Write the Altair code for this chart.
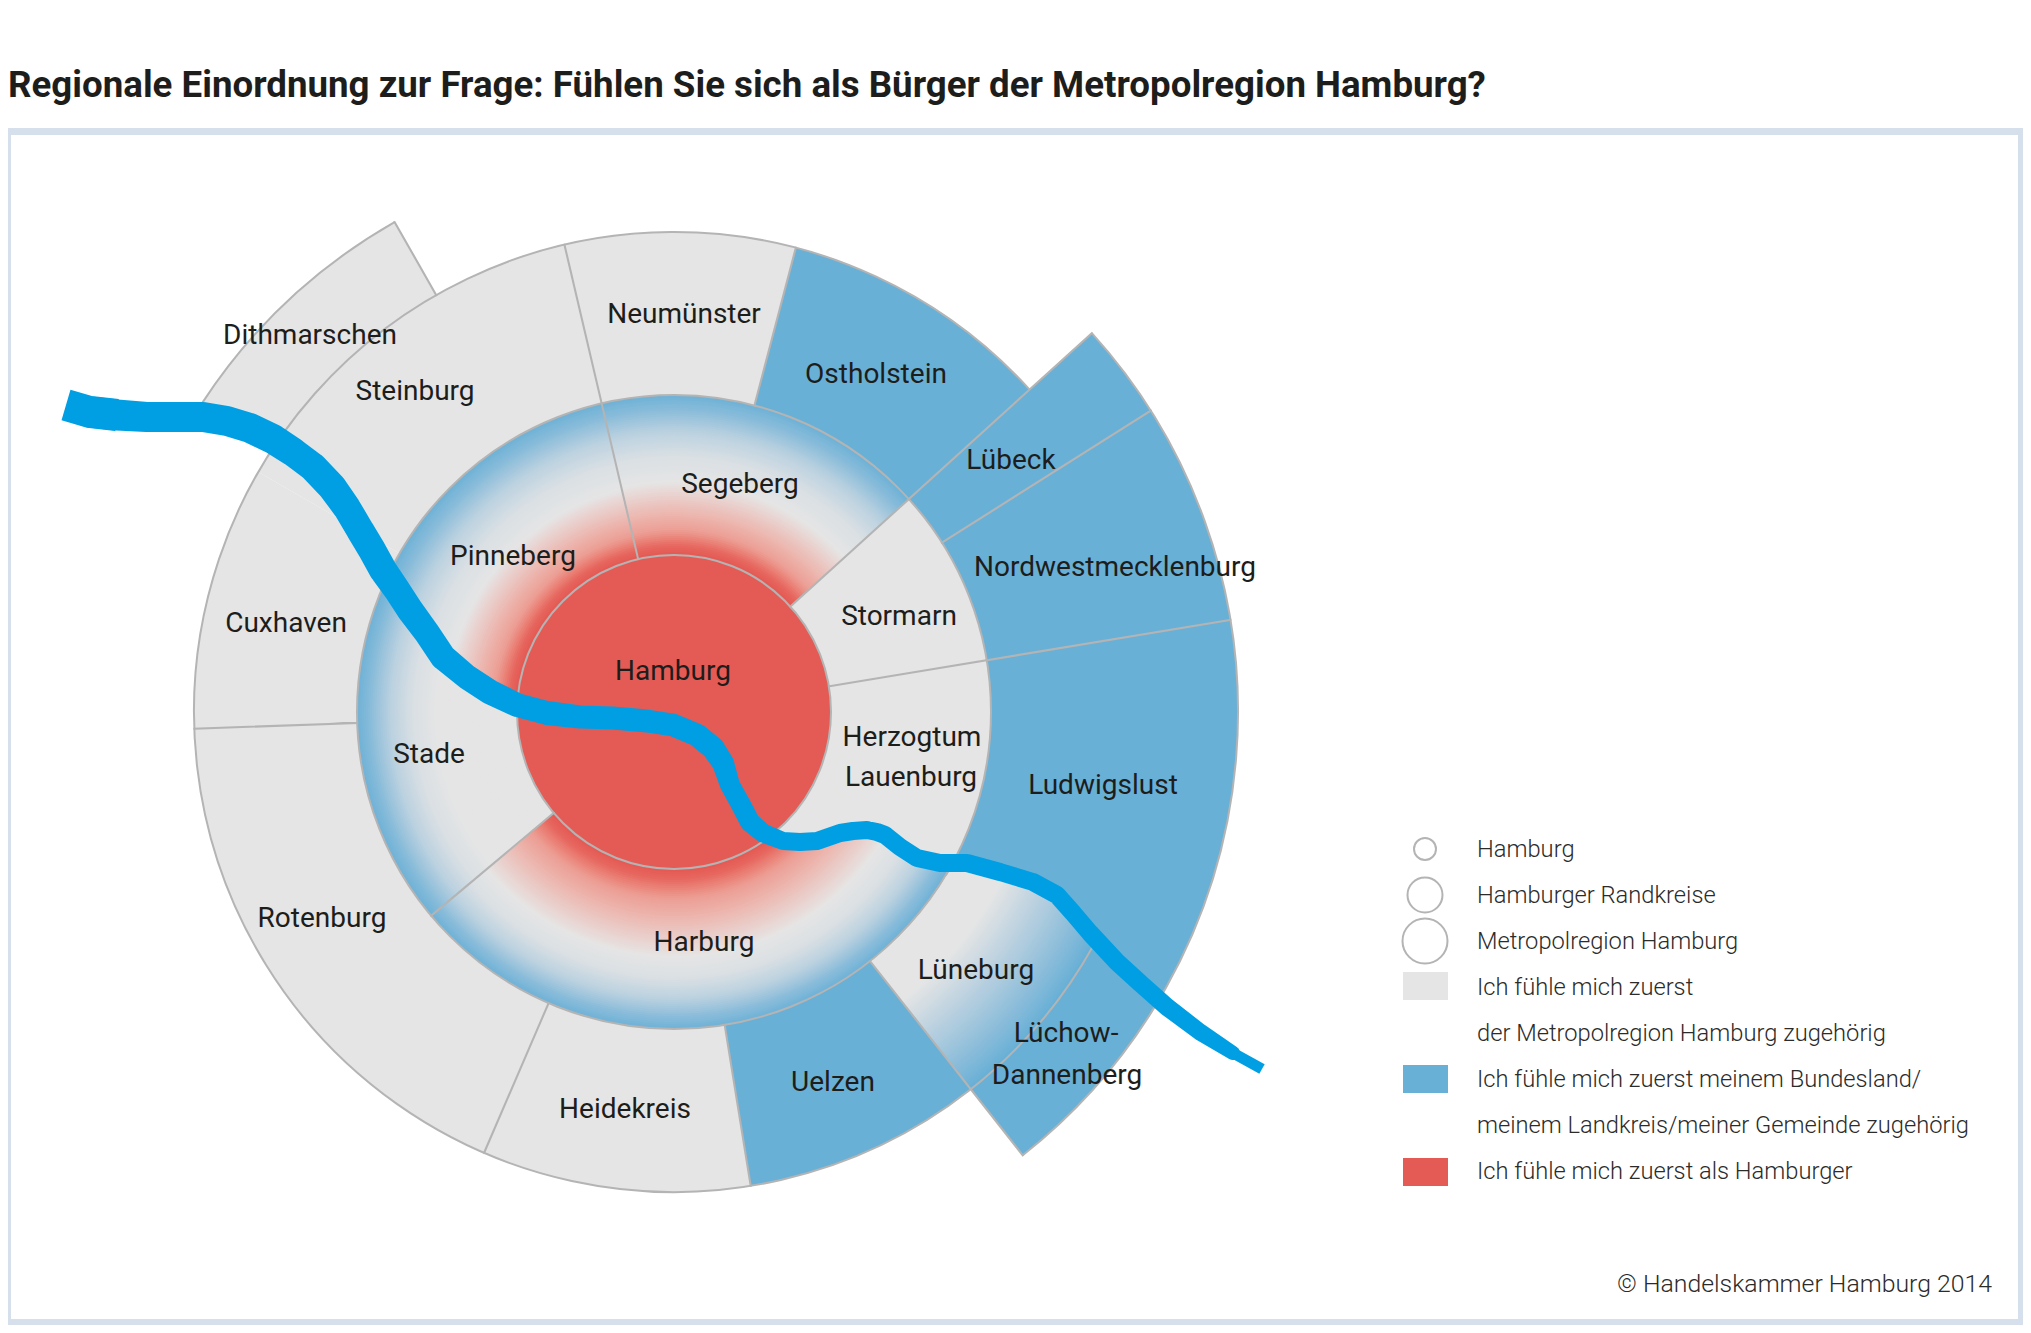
import altair as alt
import numpy as np
import pandas as pd

# ---------- values ----------
TITLE = "Regionale Einordnung zur Frage: Fühlen Sie sich als Bürger der Metropolregion Hamburg?"
CX, CY = 674, 712
R_HH, R_RAND, R_METRO, R_EXT = 157, 317, 480, 564

flat_names = ["Dithmarschen", "Cuxhaven", "Steinburg", "Neumünster", "Ostholstein", "Lübeck",
              "Nordwestmecklenburg", "Ludwigslust", "Lüchow-Dannenberg", "Uelzen", "Heidekreis",
              "Rotenburg", "Stormarn", "Herzogtum Lauenburg", "Hamburg"]
flat_r1 = [R_METRO, R_RAND, R_RAND, R_RAND, R_RAND, R_RAND, R_RAND, R_RAND, R_METRO, R_RAND, R_RAND,
           R_RAND, R_HH, R_HH, 0]
flat_r2 = [R_EXT, R_METRO, R_METRO, R_METRO, R_METRO, R_EXT, R_EXT, R_EXT, R_EXT, R_METRO, R_METRO,
           R_METRO, R_RAND, R_RAND, R_HH]
flat_a1 = [303.3, 268, 300, 346.8, 14.7, 47.8, 57.7, 80.6, 119, 141.8, 170.8, 203.3, 47.8, 80.6, 0]
flat_a2 = [330.3, 300, 346.8, 374.7, 47.8, 57.7, 80.6, 121, 141.8, 170.8, 203.3, 268, 80.6, 146, 360]
# -1 = als Hamburger, 0 = Metropolregion, 1 = Bundesland/Landkreis/Gemeinde
flat_t = [0, 0, 0, 0, 1, 1, 1, 1, 1, 1, 0, 0, 0, 0, -1]

# where the Elbe cuts the gradient districts: radius -> angle
west_r = [157, 165, 203, 232, 275, 317]
west_a = [272, 273.1, 278.5, 283.2, 291.1, 295.7]
east_r = [157, 165, 187, 206, 226, 253, 289, 317]
east_a = [144, 141.4, 135.6, 128.1, 121.8, 120.6, 120.8, 118.6]
lune_r = [317, 362, 417, 456, 480]
lune_a = [118.5, 116.1, 115.3, 117.9, 118.8]

# colour ramp of the gradient districts, read along the radius
outer_frac = [0, 0.29, 0.56, 0.81, 1]
outer_t = [0, 0.1, 0.36, 0.77, 1]
inner_frac = [0, 0.34, 0.68, 0.90, 1]
inner_t = [0, 0.27, 0.54, 0.92, 1]
RIDGE_SEGEBERG, RIDGE_PINNEBERG, RIDGE_HARBURG, RIDGE_STADE = 228, 226, 243, 235

arc_r = [R_HH, R_RAND, R_METRO, R_EXT, R_EXT]
arc_a1 = [0, 0, 119, 47.8, 303.3]
arc_a2 = [360, 360, 407.8, 141.8, 330.3]
div_r1 = [R_HH] * 4 + [R_RAND] * 5 + [R_RAND] * 4 + [R_METRO]
div_r2 = [R_RAND] * 4 + [R_METRO] * 5 + [R_EXT] * 4 + [R_EXT]
div_a = [346.8, 47.8, 80.6, 230, 14.7, 170.8, 203.3, 268, 346.8, 47.8, 57.7, 80.6, 141.8, 330.3]

river_x = [66, 90, 117, 147, 177, 203, 227, 250, 273, 293, 313, 332, 347, 360, 372, 383, 397, 410, 427, 443,
           467, 490, 517, 547, 580, 613, 647, 673, 697, 713, 723, 730, 740, 750, 763, 783, 800, 817, 840, 853, 867,
           877, 885, 900, 917, 940, 967, 1000, 1033, 1057, 1073, 1090, 1117, 1140, 1167, 1200, 1233, 1262]
river_y = [405, 412, 415, 417, 417, 417, 421, 428, 439, 452, 467, 487, 508, 530, 550, 570, 590, 610, 633, 657,
           677, 692, 705, 713, 717, 718, 721, 725, 735, 748, 763, 785, 803, 822, 833, 841, 842, 841, 833, 831, 830,
           832, 835, 847, 858, 863, 863, 872, 882, 895, 913, 933, 962, 983, 1007, 1032, 1053, 1069]
river_w = [32, 31, 31, 30, 30, 30, 30, 30, 30, 29, 29, 29, 28, 28, 28, 28, 27, 27, 26, 26,
           25, 25, 24, 24, 23, 23, 23, 23, 23, 23, 22, 20, 20, 20, 19, 18, 18, 18, 18, 18, 18,
           18, 18, 18, 18, 18, 18, 18, 18, 18, 18, 18, 18, 18, 18, 17, 14, 11]

labels = ["Dithmarschen", "Steinburg", "Neumünster", "Ostholstein", "Lübeck", "Nordwestmecklenburg",
          "Segeberg", "Pinneberg", "Stormarn", "Cuxhaven", "Hamburg", "Herzogtum", "Lauenburg", "Stade",
          "Ludwigslust", "Rotenburg", "Harburg", "Lüneburg", "Lüchow-", "Dannenberg", "Uelzen", "Heidekreis"]
label_x = [310, 415, 684, 876, 1011, 1115, 740, 513, 899, 286, 673, 912, 911, 429, 1103, 322, 704, 976, 1066, 1067, 833, 625]
label_y = [336, 392, 315, 375, 461, 568, 485, 557, 617, 624, 672, 738, 778, 755, 786, 919, 943, 971, 1034, 1076, 1083, 1110]

legend_text = ["Hamburg", "Hamburger Randkreise", "Metropolregion Hamburg", "Ich fühle mich zuerst",
               "der Metropolregion Hamburg zugehörig", "Ich fühle mich zuerst meinem Bundesland/",
               "meinem Landkreis/meiner Gemeinde zugehörig", "Ich fühle mich zuerst als Hamburger"]
legend_y = [850, 896, 942, 988, 1034, 1080, 1126, 1172]
ring_y = [849, 895, 941]
ring_r = [11, 17.5, 22.5]
swatch_y1 = [972, 1065, 1158]
swatch_y2 = [1000, 1093, 1186]
swatch_t = [0, 1, -1]

# ---------- shared encodings ----------
GRAY, BLUE, RED = "#e5e5e5", "#69b0d6", "#e45b55"
LINE, RIVER, INK, FRAME = "#b4b4b4", "#009fe3", "#1d1d1b", "#d5e0ec"
W, H = 2015, 1317
FONT = "Roboto"

xs = alt.Scale(domain=[8, 8 + W], range=[0, W])
ys = alt.Scale(domain=[8, 8 + H], range=[0, H])
X = alt.X("x:Q", scale=xs, axis=None)
Y = alt.Y("y:Q", scale=ys, axis=None)
rs = alt.Scale(domain=[0, 564], range=[0, 564])
ts = alt.Scale(domain=[0, 360], range=[0, 2 * np.pi])
color = alt.Color("t:Q", legend=None, scale=alt.Scale(domain=[-1, 0, 1], range=[RED, GRAY, BLUE]))


def arc_enc():
    return dict(
        x=X, y=Y,
        theta=alt.Theta("a1:Q", scale=ts, stack=None),
        theta2="a2:Q",
        radius=alt.Radius("r2:Q", scale=rs),
        radius2="r1:Q",
    )


# ---------- gradient districts drawn as thin rings, outer ring first ----------
def ring_t(r, ridge):
    if r >= ridge:
        return float(np.interp((r - ridge) / (R_RAND - ridge), outer_frac, outer_t))
    return -float(np.interp((ridge - r) / (ridge - R_HH), inner_frac, inner_t))


rows = []
for r in np.arange(R_RAND - 2, R_HH - 1, -2.0):
    cw = float(np.interp(r, west_r, west_a))
    ce = float(np.interp(r, east_r, east_a))
    hi = min(r + 3, R_RAND)
    rows.append(dict(a1=346.8, a2=407.8, r1=r, r2=hi, t=ring_t(r, RIDGE_SEGEBERG)))
    rows.append(dict(a1=cw, a2=346.8, r1=r, r2=hi, t=ring_t(r, RIDGE_PINNEBERG)))
    rows.append(dict(a1=ce, a2=230, r1=r, r2=hi, t=ring_t(r, RIDGE_HARBURG)))
    rows.append(dict(a1=230, a2=cw, r1=r, r2=hi, t=max(ring_t(r, RIDGE_STADE), 0)))
for r in np.arange(R_METRO - 2, R_RAND - 1, -2.0):
    lt = float(np.clip((r - 365) / (476 - 365), 0, 1))
    rows.append(dict(a1=float(np.interp(r, lune_r, lune_a)), a2=141.8, r1=r, r2=min(r + 3, R_METRO), t=lt))  # Lüneburg
bands = pd.DataFrame(rows).assign(x=CX, y=CY)

flat = pd.DataFrame(dict(name=flat_names, r1=flat_r1, r2=flat_r2, a1=flat_a1, a2=flat_a2, t=flat_t)).assign(x=CX, y=CY)

outline_rows = [dict(x=CX, y=CY, r1=r, r2=r, a1=a, a2=b) for r, a, b in zip(arc_r, arc_a1, arc_a2)]
outline_rows += [dict(x=CX, y=CY, r1=p, r2=q, a1=a, a2=a + 0.01) for p, q, a in zip(div_r1, div_r2, div_a)]
outline_rows += [dict(x=1425, y=yy, r1=r, r2=r, a1=0, a2=360) for yy, r in zip(ring_y, ring_r)]
outlines = pd.DataFrame(outline_rows)

# ---------- layers ----------
R_EDGE, B_EDGE = 8 + W, 8 + H
frame = alt.Chart(pd.DataFrame(dict(
    x=[8, 8, R_EDGE - 5, 8], x2=[R_EDGE, 11, R_EDGE, R_EDGE],
    y=[128, 128, 128, B_EDGE - 6], y2=[135, B_EDGE, B_EDGE, B_EDGE]))).mark_rect(color=FRAME).encode(
    x=X, x2="x2:Q", y=Y, y2="y2:Q")

flat_layer = alt.Chart(flat).mark_arc().encode(color=color, **arc_enc())
band_layer = alt.Chart(bands).mark_arc().encode(color=color, **arc_enc())
line_layer = alt.Chart(outlines).mark_arc(fillOpacity=0, stroke=LINE, strokeWidth=2).encode(**arc_enc())

river = pd.DataFrame(dict(x=river_x, y=river_y, w=river_w))
trail = alt.Chart(river.iloc[1:-1]).mark_trail(color=RIVER).encode(
    x=X, y=Y, size=alt.Size("w:Q", scale=None, legend=None))
start = alt.Chart(river.iloc[:3]).mark_line(color=RIVER, strokeCap="butt", strokeWidth=river_w[0]).encode(x=X, y=Y)
end = alt.Chart(river.iloc[-2:]).mark_line(color=RIVER, strokeCap="butt", strokeWidth=river_w[-1]).encode(x=X, y=Y)

swatches = alt.Chart(pd.DataFrame(dict(x=[1403] * 3, x2=[1448] * 3, y=swatch_y1, y2=swatch_y2, t=swatch_t))).mark_rect().encode(
    x=X, x2="x2:Q", y=Y, y2="y2:Q", color=color)

region_text = alt.Chart(pd.DataFrame(dict(x=label_x, y=label_y, s=labels))).mark_text(
    font=FONT, fontSize=28, color=INK, align="center", baseline="middle").encode(x=X, y=Y, text="s:N")
legend_labels = alt.Chart(pd.DataFrame(dict(x=[1477] * len(legend_text), y=legend_y, s=legend_text))).mark_text(
    font=FONT, fontSize=23.7, fontWeight=300, color="#2b2b2a", align="left", baseline="middle").encode(x=X, y=Y, text="s:N")
title = alt.Chart(pd.DataFrame(dict(x=[8], y=[86], s=[TITLE]))).mark_text(
    font=FONT, fontSize=36.7, fontWeight="bold", color=INK, align="left", baseline="middle").encode(x=X, y=Y, text="s:N")
credit = alt.Chart(pd.DataFrame(dict(x=[1992], y=[1285], s=["© Handelskammer Hamburg 2014"]))).mark_text(
    font=FONT, fontSize=24.8, fontWeight=300, color="#2b2b2a", align="right", baseline="middle").encode(x=X, y=Y, text="s:N")

chart = alt.layer(
    frame, flat_layer, band_layer, line_layer, start, end, trail, swatches,
    region_text, legend_labels, title, credit,
).properties(width=W, height=H, padding=0, background="white",
             autosize=alt.AutoSizeParams(type="none")).configure_view(strokeWidth=0)

chart.save("out.html", embed_options={"renderer": "svg", "actions": False})
